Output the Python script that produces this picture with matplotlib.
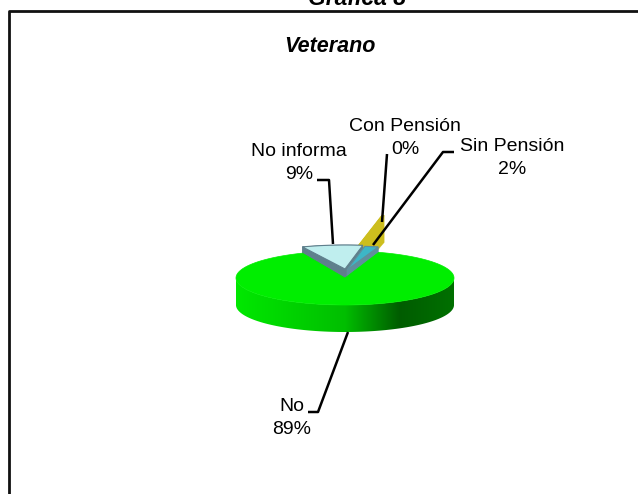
import numpy as np
import matplotlib
matplotlib.use('Agg')
import matplotlib.pyplot as plt
from matplotlib.patches import Polygon

plt.rcParams['font.family'] = ['Liberation Sans', 'DejaVu Sans']

# slices, counter-clockwise from the start angle
categories = ['No informa', 'No', 'Con Pensión', 'Sin Pensión']
values = [9.0, 88.6, 0.4, 2.0]
tick_labels = ['9%', '89%', '0%', '2%']
colors = ['#BFEEEE', '#00EE00', '#CDBE1E', '#3DB6C6']
side_colors = ['#5F7F8C', '#007000', '#CDBE1E', '#5F8F9C']

startAngle = 80.6
cx, cy = 345, 278
rx, ry = 109, 27
depth = 27

# per slice: raise above the pie (dx, dy) and its own radii
offsets = {'No informa': (0, -9, rx, 24), 'No': (0, 0, rx, ry),
           'Con Pensión': (13, -32, 84, 32), 'Sin Pensión': (2, -8, rx, 24)}


def wedge(a0, a1, x0, y0, w, h):
    t = np.radians(np.linspace(a0, a1, max(int(a1 - a0) * 2, 3)))
    pts = np.column_stack([x0 + w * np.cos(t), y0 - h * np.sin(t)])
    return np.vstack([[x0, y0], pts])


fig = plt.figure(figsize=(6.38, 4.94), dpi=100)
ax = fig.add_axes([0, 0, 1, 1])
ax.axis('off')

# outer frame, cut off by the picture on the right and at the bottom
ax.plot([9, 9, 640], [496, 11, 11], color='#111111', lw=2)

angles = startAngle + np.concatenate([[0], np.cumsum(values)]) * 3.6
spans = {c: (angles[i], angles[i + 1]) for i, c in enumerate(categories)}

# back slices first, each with its extrusion, the big slice goes over them
for name in ['Con Pensión', 'No informa', 'Sin Pensión']:
    i = categories.index(name)
    dx, dy, w, h = offsets[name]
    a0, a1 = spans[name]
    top = wedge(a0, a1, cx + dx, cy + dy, w, h)
    for p, q in zip(top, np.roll(top, -1, axis=0)):
        ax.add_patch(Polygon([p, q, q + [0, depth], p + [0, depth]], closed=True,
                             fc=side_colors[i], ec=side_colors[i], lw=0.3, zorder=2))
    ax.add_patch(Polygon(top, closed=True, fc=colors[i], ec=side_colors[i], lw=0.8, zorder=2.5))

# side of the big slice with its shading
shadeX = [236, 345, 400, 454]
shadeG = [232, 190, 92, 112]
xs = np.arange(cx - rx, cx + rx + 1)
gradient = np.zeros((1, len(xs), 3))
gradient[0, :, 1] = np.interp(xs, shadeX, shadeG) / 255
t = np.radians(np.linspace(180, 360, 220))
rim = np.column_stack([cx + rx * np.cos(t), cy - ry * np.sin(t)])
side = Polygon(np.vstack([rim, rim[::-1] + [0, depth]]), closed=True, fc='none', ec='none',
               transform=ax.transData)
ax.add_patch(side)
img = ax.imshow(gradient, extent=(cx - rx, cx + rx, cy + ry + depth, cy - ry), aspect='auto', zorder=3)
img.set_clip_path(side)

a0, a1 = spans['No']
ax.add_patch(Polygon(wedge(a0, a1, cx, cy, rx, ry), closed=True, fc=colors[1], ec=colors[1], lw=0.5, zorder=4))

# leader lines
leaders = {
    'No informa': [(317, 180), (329, 180), (333, 244)],
    'Con Pensión': [(387, 154), (382, 222)],
    'Sin Pensión': [(454, 152), (443, 152), (373, 245)],
    'No': [(308, 412), (318, 412), (348, 332)],
}
for name in leaders:
    lx, ly = zip(*leaders[name])
    ax.plot(lx, ly, color='black', lw=1.8, zorder=6, solid_capstyle='butt')

# data labels
labelPos = {'No informa': (299, 163), 'Con Pensión': (405, 138),
            'Sin Pensión': (512, 158), 'No': (292, 418)}
for i, name in enumerate(categories):
    x, y = labelPos[name]
    ax.text(x, y, name + '\n' + tick_labels[i], ha='center', va='center', fontsize=14,
            linespacing=1.4, zorder=7)

ax.text(330, 47, 'Veterano', ha='center', va='center', fontsize=15.5, style='italic', weight='bold')
ax.text(357, 5, 'Gráfica 8', ha='center', va='baseline', fontsize=16.5, style='italic', weight='bold')

ax.set_xlim(0, 638)
ax.set_ylim(494, 0)
fig.savefig('out.png', dpi=100)
